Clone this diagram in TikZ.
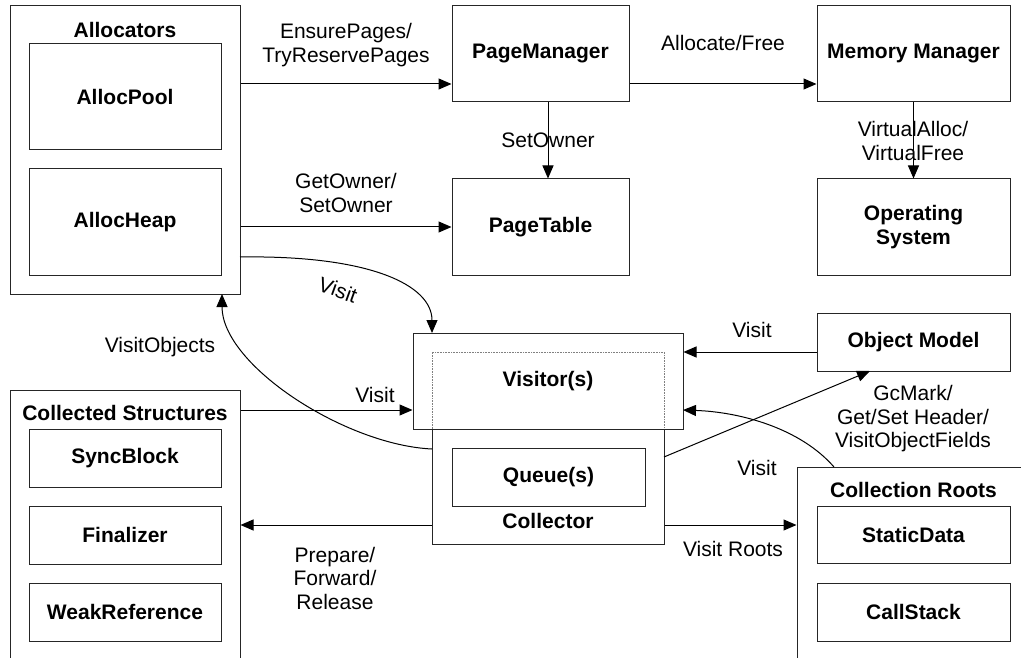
\documentclass[tikz,border=0pt]{standalone}
\usepackage{fontspec}
\setmainfont{Liberation Sans}
\usetikzlibrary{arrows.meta,calc}
\begin{document}
\begin{tikzpicture}[x=1pt,y=-1pt,
  every node/.style={font=\fontsize{21}{23.5}\selectfont, inner sep=0pt},
  bx/.style 2 args={draw=black!85, line width=1pt, fill=white, minimum width=#1 pt, minimum height=#2 pt, font=\fontsize{21}{23.5}\selectfont\bfseries, align=center},
  ttl/.style={font=\fontsize{21}{23.5}\selectfont\bfseries},
  lbl/.style={align=center},
  arr/.style={draw=black, line width=1pt, -{Triangle[length=13pt,width=11pt]}},
  ln/.style={draw=black, line width=1pt}]
\useasboundingbox (0,0) rectangle (1021,658);
% containers
\node[bx={230}{288}] (alloc) at (125,150) {};
\node[ttl] (allocT) at (125,30) {Allocators};
\node[bx={192}{106}] (pool) at (125,97) {AllocPool};
\node[bx={192}{106}] (heap) at (125,222) {AllocHeap};
\node[bx={177}{96}] (pm) at (540.5,54) {PageManager};
\node[bx={193}{96}] (mm) at (913.5,54) {Memory Manager};
\node[bx={177}{96}] (pt) at (540.5,227) {PageTable};
\node[bx={193}{96}] (os) at (913.5,227) {Operating\\System};
\node[bx={193}{58}] (om) at (913.5,342) {Object Model};
% visitors / collector
\node[bx={270}{96}] (vis) at (548,381) {};
\draw[draw=black!50, line width=0.6pt, densely dotted] (432,429) -- (432,352) -- (664,352) -- (664,429);
\node[ttl] (visT) at (548,381) {Visitor(s)};
\node[bx={232}{115}] (coll) at (548,486.5) {};
\node[bx={193}{58}] (queue) at (548.5,477) {Queue(s)};
\node[ttl] (collT) at (548,521) {Collector};
% collected structures
\node[draw=black!85, line width=1pt, fill=white, minimum width=230pt, minimum height=310pt] (cs) at (125,545) {};
\node[ttl] (csT) at (125,413) {Collected Structures};
\node[bx={192}{58}] (sync) at (125,458) {SyncBlock};
\node[bx={192}{58}] (fin) at (125,535) {Finalizer};
\node[bx={192}{58}] (weak) at (125,612) {WeakReference};
% collection roots
\node[draw=black!85, line width=1pt, fill=white, minimum width=260pt, minimum height=260pt] (cr) at (927,597) {};
\node[ttl] (crT) at (913.5,490) {Collection Roots};
\node[bx={193}{57}] (stat) at (913.5,534.5) {StaticData};
\node[bx={193}{58}] (call) at (913.5,612) {CallStack};
% helper coordinates
\coordinate (y84) at (0,84);
\coordinate (x548) at (548,0);
\coordinate (y352) at (0,352);
\coordinate (y410) at (0,410);
\coordinate (y525) at (0,525);
\coordinate (vtop) at (432,333);
\coordinate (vstart) at (240,257);
\coordinate (voStart) at (432,449);
\coordinate (voEnd) at (222,294);
\coordinate (omStart) at (664,457);
\coordinate (omEnd) at (870,371);
\coordinate (crStart) at (834,467);
\coordinate (visR) at (683,410);
% connectors
\draw[arr] (alloc.east |- y84) -- (pm.west |- y84);
\draw[arr] (pm.east |- y84) -- (mm.west |- y84);
\draw[arr] (pm.south -| x548) -- (pt.north -| x548);
\draw[arr] (mm.south) -- (os.north);
\draw[arr] (alloc.east |- pt.west) -- (pt.west);
\draw[arr] (vstart) .. controls (370,255) and (432,285) .. (vtop);
\draw[arr] (om.west |- y352) -- (vis.east |- y352);
\draw[arr] (cs.east |- y410) -- (vis.west |- y410);
\draw[arr] (voStart) .. controls (345,445) and (222,365) .. (voEnd);
\draw[arr] (omStart) -- (omEnd);
\draw[arr] (crStart) .. controls (800,428) and (740,412) .. (visR);
\draw[arr] (coll.west |- y525) -- (cs.east |- y525);
\draw[arr] (coll.east |- y525) -- (cr.west |- y525);
% labels
\node[lbl] (l1) at (346,45) {EnsurePages/\\TryReservePages};
\node[lbl] (l2) at (723,43) {Allocate/Free};
\node[lbl] (l3) at (548,140) {SetOwner};
\node[lbl] (l4) at (913,141) {VirtualAlloc/\\VirtualFree};
\node[lbl] (l5) at (346,193) {GetOwner/\\SetOwner};
\node[lbl, rotate=-20] (l6) at (338,290) {Visit};
\node[lbl] (l7) at (160,347) {VisitObjects};
\node[lbl] (l8) at (752,330) {Visit};
\node[lbl] (l9) at (375,395) {Visit};
\node[lbl] (l10) at (913,419) {GcMark/\\Get/Set Header/\\VisitObjectFields};
\node[lbl] (l11) at (757,468) {Visit};
\node[lbl] (l12) at (335,578) {Prepare/\\Forward/\\Release};
\node[lbl] (l13) at (733,549) {Visit Roots};
\end{tikzpicture}
\end{document}
